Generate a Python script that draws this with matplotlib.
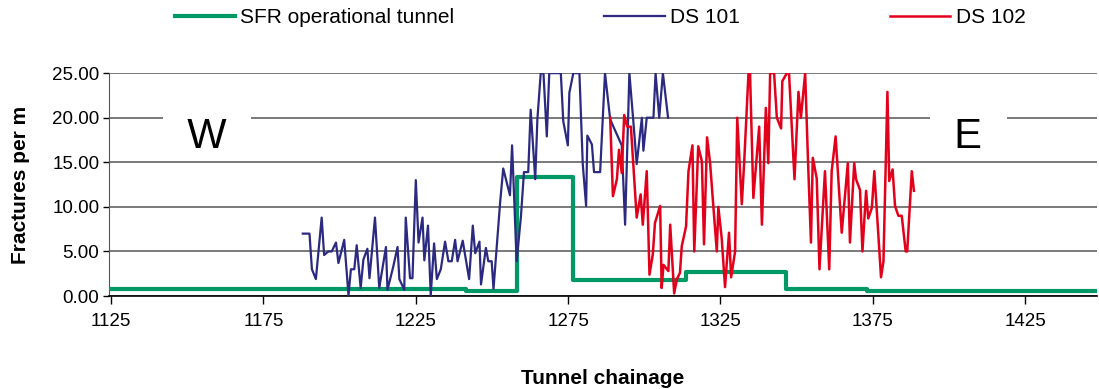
import numpy as np
import matplotlib
matplotlib.use("Agg")
import matplotlib.pyplot as plt

plt.rcParams['font.family'] = ['Liberation Sans', 'DejaVu Sans']

# SFR operational tunnel (step profile, value holds until next chainage)
sfr_chain = [1125, 1241.4, 1258.1, 1276.5, 1313.6, 1346.4, 1373.0, 1448.5]
sfr_frac = [0.8, 0.6, 13.3, 1.8, 2.7, 0.8, 0.6, 0.6]

# DS 101
ds101_chain = [1187.9, 1190.1, 1190.9, 1192.2, 1194.1, 1194.9, 1196.3, 1197.4, 1198.8, 1199.6,
               1201.5, 1202.9, 1203.7, 1204.8, 1205.6, 1206.9, 1207.8, 1209.1, 1209.8, 1211.6,
               1213.0, 1215.2, 1215.7, 1217.6, 1219.0, 1219.6, 1221.2, 1221.7, 1223.1, 1223.9,
               1225.0, 1225.9, 1227.2, 1227.8, 1229.0, 1229.9, 1231.0, 1231.9, 1233.2, 1234.6,
               1235.7, 1236.8, 1237.9, 1238.7, 1240.4, 1242.5, 1243.7, 1244.5, 1245.9, 1246.4,
               1248.0, 1248.8, 1249.9, 1250.5, 1252.7, 1253.7, 1255.9, 1256.6, 1258.1, 1259.5,
               1260.5, 1261.9, 1262.7, 1264.2, 1264.9, 1266.0, 1266.9, 1268.0, 1268.8, 1272.6,
               1273.4, 1274.9, 1275.4, 1276.7, 1278.7, 1279.8, 1280.9, 1281.3, 1282.8, 1283.5,
               1285.5, 1287.1, 1288.8, 1292.6, 1293.7, 1295.1, 1296.4, 1297.5, 1299.2, 1299.7,
               1300.8, 1303.0, 1303.7, 1304.9, 1306.1, 1307.8]
ds101_frac = [7.0, 7.0, 3.0, 1.9, 8.8, 4.6, 5.0, 5.0, 6.0, 3.7,
              6.3, 0.1, 3.0, 3.0, 5.7, 0.9, 4.1, 5.3, 2.0, 8.8,
              0.9, 5.5, 0.7, 3.3, 5.5, 1.9, 0.7, 8.8, 2.0, 2.0,
              13.0, 6.0, 8.8, 4.0, 7.9, 0.1, 5.9, 1.9, 3.0, 6.1,
              3.9, 3.9, 6.3, 3.9, 6.2, 1.9, 7.9, 4.8, 6.1, 1.3,
              5.4, 3.9, 3.9, 0.8, 10.6, 14.3, 11.3, 16.9, 3.9, 8.9,
              13.9, 13.9, 20.9, 13.1, 19.8, 25.0, 25.0, 17.9, 25.0, 25.0,
              19.6, 16.9, 22.8, 25.0, 25.0, 14.8, 10.1, 18.0, 17.0, 13.9,
              13.9, 25.0, 19.8, 16.9, 8.0, 25.0, 19.6, 14.8, 20.0, 16.3,
              20.0, 20.0, 25.0, 20.0, 25.0, 20.0]

# DS 102
ds102_chain = [1288.8, 1289.7, 1291.0, 1291.7, 1292.6, 1293.4, 1294.4, 1295.6, 1297.5, 1298.8,
               1299.5, 1300.8, 1301.7, 1302.8, 1303.5, 1305.2, 1305.7, 1306.3, 1307.9, 1308.5,
               1309.8, 1310.7, 1311.7, 1312.3, 1313.7, 1314.5, 1315.8, 1316.4, 1317.7, 1318.9,
               1319.6, 1320.6, 1321.6, 1322.7, 1323.8, 1324.3, 1325.4, 1326.5, 1327.8, 1328.5,
               1329.8, 1330.5, 1332.0, 1332.8, 1334.2, 1334.7, 1335.8, 1337.7, 1338.6, 1339.9,
               1340.7, 1341.3, 1342.6, 1343.5, 1344.9, 1345.3, 1346.8, 1347.5, 1349.3, 1350.6,
               1351.4, 1352.8, 1353.7, 1354.7, 1355.3, 1356.6, 1357.5, 1359.3, 1360.7, 1361.5,
               1362.8, 1364.8, 1366.8, 1367.5, 1368.9, 1369.5, 1370.8, 1371.6, 1372.8, 1373.5,
               1374.7, 1375.5, 1377.7, 1378.5, 1379.8, 1380.4, 1381.5, 1382.3, 1383.4, 1384.5,
               1385.8, 1386.3, 1387.8, 1388.5]
ds102_frac = [20.0, 11.2, 13.1, 16.4, 13.8, 20.3, 19.0, 19.0, 8.8, 11.4,
              8.0, 14.0, 2.4, 4.7, 8.2, 10.1, 0.9, 3.5, 2.8, 8.0,
              0.3, 1.9, 2.6, 5.6, 7.8, 14.0, 16.9, 5.0, 16.8, 15.1,
              5.8, 17.8, 14.9, 9.9, 5.0, 10.0, 6.5, 1.0, 7.1, 2.1,
              5.0, 20.0, 10.3, 15.1, 25.0, 25.0, 11.0, 19.0, 8.0, 21.1,
              14.9, 25.0, 25.0, 20.0, 18.8, 24.1, 25.0, 25.0, 13.1, 22.9,
              20.0, 25.0, 15.5, 6.0, 15.5, 13.2, 3.0, 14.0, 3.0, 14.0,
              17.9, 7.1, 14.9, 6.0, 14.9, 13.1, 11.9, 5.0, 11.8, 8.7,
              9.9, 14.0, 2.1, 3.9, 22.9, 12.9, 14.2, 10.1, 9.0, 9.0,
              5.0, 5.0, 14.0, 11.8]

x_ticks = [1125, 1175, 1225, 1275, 1325, 1375, 1425]
y_ticks = [0, 5, 10, 15, 20, 25]

fig = plt.figure(figsize=(10.99, 3.89), dpi=100)
ax = fig.add_axes([0.0992, 0.239, 0.899, 0.573])

ax.step(sfr_chain, sfr_frac, where='post', color='#009966', lw=3.0,
        label='SFR operational tunnel', zorder=3)
ax.plot(ds101_chain, ds101_frac, color='#2b2a80', lw=1.6, label='DS 101', zorder=4)
ax.plot(ds102_chain, ds102_frac, color='#e3001b', lw=1.8, label='DS 102', zorder=5)

ax.set_xlim(1124.3, 1448.6)
ax.set_ylim(0, 25)
ax.set_xticks(x_ticks)
ax.set_yticks(y_ticks)
ax.set_yticklabels([f"{v:.2f}" for v in y_ticks])
ax.tick_params(axis='x', direction='out', length=6, width=1, pad=6, labelsize=13.5)
ax.tick_params(axis='y', direction='out', length=4, width=1, pad=3, labelsize=13.5)

ax.yaxis.grid(True, color='#6e6e6e', lw=1.3)
ax.set_axisbelow(True)
for s in ['top', 'right']:
    ax.spines[s].set_visible(False)
ax.spines['left'].set_color('#555555')
ax.spines['bottom'].set_linewidth(1.2)

ax.text(1156.5, 17.8, '  W  ', fontsize=30, ha='center', va='center',
        bbox=dict(facecolor='white', edgecolor='none', pad=1), zorder=2)
ax.text(1406.3, 17.8, '  E  ', fontsize=30, ha='center', va='center',
        bbox=dict(facecolor='white', edgecolor='none', pad=1), zorder=2)

ax.set_xlabel('Tunnel chainage', fontsize=15, fontweight='bold', labelpad=28)
ax.set_ylabel('Fractures per m', fontsize=15, fontweight='bold', labelpad=16)

fig.legend(loc='center', bbox_to_anchor=(0.546, 0.954), ncol=3, frameon=False,
           fontsize=15, handlelength=2.9, handletextpad=0.25, columnspacing=7.2)

fig.savefig('out.png', dpi=100)
